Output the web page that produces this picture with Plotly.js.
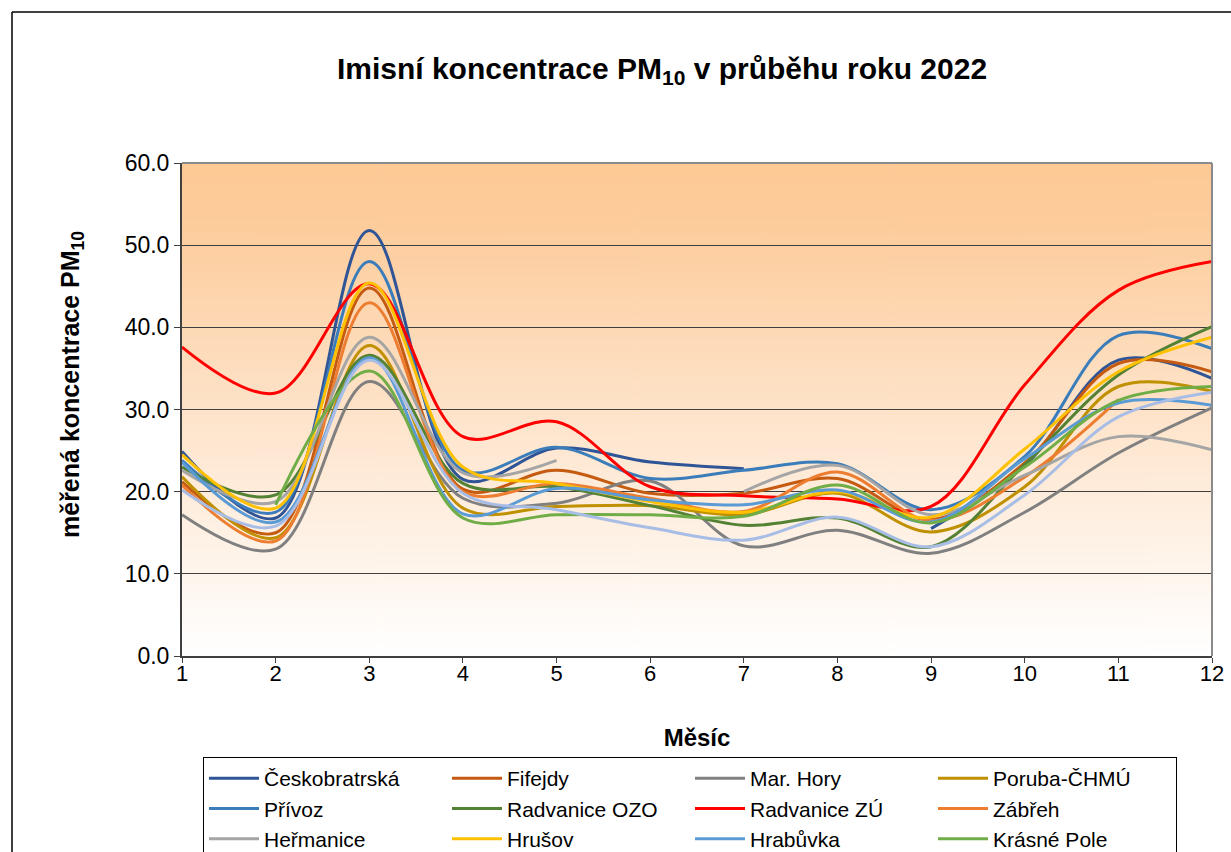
<!DOCTYPE html>
<html><head><meta charset="utf-8">
<script src="https://cdn.plot.ly/plotly-3.0.1.min.js"></script>
<style>html,body{margin:0;padding:0;background:#fff;} #chart{width:1231px;height:852px;}</style>
</head><body><div id="chart"></div>
<script>
// Data (PM10 monthly mean concentrations, 2022)
const months = [1,2,3,4,5,6,7,8,9,10,11,12];
const seriesNames = ['Českobratrská','Fifejdy','Mar. Hory','Poruba-ČHMÚ','Přívoz','Radvanice OZO','Radvanice ZÚ','Zábřeh','Heřmanice','Hrušov','Hrabůvka','Krásné Pole','Poruba-ZÚ'];
const ceskobratrska = [24.9, 16.8, 51.8, 21.5, 25.3, 23.6, 22.8, null, 15.5, 23.2, 36.0, 33.8];
const fifejdy       = [21.2, 15.0, 44.8, 20.3, 22.6, 19.8, 19.8, 21.6, 16.6, 23.5, 35.6, 34.6];
const marHory       = [17.2, 13.0, 33.4, 19.2, 18.6, 21.3, 13.4, 15.3, 12.5, 17.5, 24.7, 30.2];
const porubaChmu    = [21.8, 14.4, 37.8, 18.0, 18.2, 18.3, 17.2, 19.8, 15.1, 20.6, 32.8, 32.2];
const privoz        = [23.8, 17.5, 48.0, 22.6, 25.4, 21.6, 22.6, 23.4, 17.8, 24.3, 39.0, 37.4];
const radvaniceOzo  = [23.0, 19.6, 36.6, 21.0, 20.6, 18.3, 15.9, 16.8, 13.3, 23.3, 34.2, 40.1];
const radvaniceZu   = [37.6, 32.0, 45.3, 26.7, 28.5, 20.6, 19.5, 19.1, 18.2, 33.0, 44.5, 48.0];
const zabreh        = [20.8, 14.0, 43.0, 20.0, 21.0, 19.2, 17.6, 22.4, 16.5, 21.8, 31.2, null];
const hermanice     = [22.6, 18.8, 38.8, 22.3, 23.8, null, 20.0, 23.2, 17.2, 22.0, 26.7, 25.1];
const hrusov        = [24.5, 18.0, 45.4, 23.0, 21.0, 18.8, 17.5, 20.0, 16.9, 25.2, 34.6, 38.8];
const hrabuvka      = [23.6, 16.3, 36.3, 17.3, 20.4, 19.0, 18.4, 20.2, 16.3, 24.0, 30.8, 30.5];
const krasnePole    = [null, 18.4, 34.7, 16.8, 17.2, 17.2, 17.0, 20.8, 16.2, 23.0, 31.1, 32.8];
const porubaZu      = [20.2, 15.8, 36.0, 19.8, 17.8, 15.6, 14.1, 16.9, 13.3, 19.6, 29.1, 32.1];
const seriesValues = [ceskobratrska, fifejdy, marHory, porubaChmu, privoz, radvaniceOzo, radvaniceZu, zabreh, hermanice, hrusov, hrabuvka, krasnePole, porubaZu];
const seriesColors = ['#2F5597','#C55A11','#808080','#BF9000','#3A7DBA','#548235','#FF0000','#ED7D31','#A5A5A5','#FFC000','#5B9BD5','#70AD47','#A8BDE6'];

// Background gradient for plot area
function gradientURL(){
  const c = document.createElement('canvas');
  c.width = 8; c.height = 500;
  const g = c.getContext('2d');
  const lg = g.createLinearGradient(0,0,0,500);
  lg.addColorStop(0, '#FDCA96');
  lg.addColorStop(0.12, '#FDCC9B');
  lg.addColorStop(0.55, '#FEE6CF');
  lg.addColorStop(1, '#FFFFFF');
  g.fillStyle = lg; g.fillRect(0,0,8,500);
  return c.toDataURL('image/png');
}

const traces = seriesNames.map((n,i)=>({
  type:'scatter', mode:'lines', name:n, x:months, y:seriesValues[i],
  connectgaps:false,
  line:{color:seriesColors[i], width:3, shape:'spline', smoothing:1}
}));

const layout = {
  width:1231, height:852,
  margin:{l:182, r:19, t:163, b:196, autoexpand:false},
  paper_bgcolor:'#ffffff', plot_bgcolor:'rgba(0,0,0,0)',
  font:{family:'"Liberation Sans", Arial, sans-serif', color:'#000000', size:22},
  title:{text:'<b>Imisní koncentrace PM<sub>10</sub> v průběhu roku 2022</b>', font:{size:30, color:'#000'},
         xref:'container', x:662/1231, xanchor:'center', yref:'container', y:1-68/852, yanchor:'middle'},
  xaxis:{range:[1,12], tickvals:months, ticks:'outside', ticklen:5, tickcolor:'#404040', tickwidth:1,
         ticklabelstandoff:-8,
         showline:true, linecolor:'#404040', linewidth:2, showgrid:false, zeroline:false,
         tickfont:{size:22}, title:{text:'<b>Měsíc</b>', font:{size:24}, standoff:44}},
  yaxis:{range:[0,60], dtick:10, tick0:0, tickformat:'.1f', ticks:'outside', ticklen:6, tickcolor:'#404040',
         showline:true, linecolor:'#404040', linewidth:2, showgrid:true, gridcolor:'#404040', gridwidth:1, zeroline:false,
         tickfont:{size:23}},
  annotations:[{text:'<b>měřená koncentrace PM<sub>10</sub></b>', xref:'paper', yref:'paper',
         x:(72-182)/1030, y:(656-385)/493, xanchor:'center', yanchor:'middle', textangle:-90,
         showarrow:false, font:{size:25, color:'#000'}}],
  images:[{source:gradientURL(), xref:'paper', yref:'paper', x:0, y:1, sizex:1, sizey:1, sizing:'stretch', layer:'below', xanchor:'left', yanchor:'top'}],
  shapes:[
    {type:'line', xref:'paper', yref:'paper', x0:0, x1:1, y0:1, y1:1, line:{color:'#8a8a8a', width:2}},
    {type:'line', xref:'paper', yref:'paper', x0:1, x1:1, y0:0, y1:1, line:{color:'#8a8a8a', width:2}},
    {type:'line', xref:'paper', yref:'paper', x0:(12-182)/1030, x1:(12-182)/1030, y0:-0.6, y1:(656-12)/493, line:{color:'#000', width:1.5}},
    {type:'line', xref:'paper', yref:'paper', x0:(12-182)/1030, x1:1.1, y0:(656-12)/493, y1:(656-12)/493, line:{color:'#000', width:1.5}}
  ],
  legend:{orientation:'h', x:(203-182)/1030, y:(656-757)/493, xanchor:'left', yanchor:'top',
          bordercolor:'#000', borderwidth:1, bgcolor:'#ffffff', font:{size:21},
          entrywidth:178, entrywidthmode:'pixels', itemwidth:50, traceorder:'normal'},
  showlegend:true
};

Plotly.newPlot('chart', traces, layout, {displayModeBar:false, staticPlot:true});
</script>
</body></html>
